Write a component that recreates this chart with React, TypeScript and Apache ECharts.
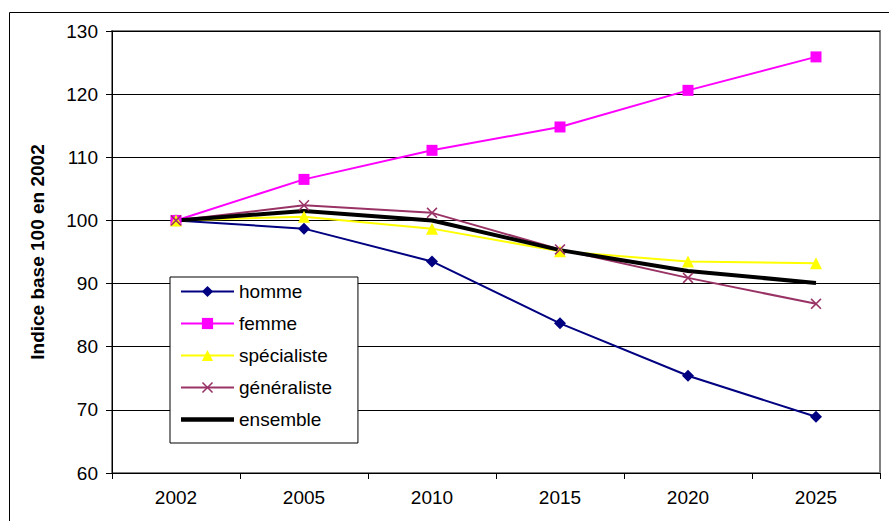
import React, { useEffect, useRef } from "react";
import * as echarts from "echarts";

const categories = ["2002", "2005", "2010", "2015", "2020", "2025"];
const homme = [100, 98.7, 93.5, 83.7, 75.4, 68.9];
const femme = [100, 106.5, 111.1, 114.8, 120.6, 125.9];
const specialiste = [100, 100.6, 98.7, 95.1, 93.5, 93.2];
const generaliste = [100, 102.4, 101.2, 95.4, 90.9, 86.8];
const ensemble = [100, 101.5, 100, 95.3, 92.0, 90.1];
const yTicks = { min: 60, max: 130, interval: 10 };

const FONT = "Liberation Sans, Arial, sans-serif";
const FS = 19;
const X_SYMBOL = "path://M0,1L1,0L5,4L9,0L10,1L6,5L10,9L9,10L5,6L1,10L0,9L4,5Z";

export default function App() {
  const ref = useRef<HTMLDivElement>(null);
  useEffect(() => {
    if (!ref.current) return;
    const chart = echarts.init(ref.current, undefined, { renderer: "svg" });
    const mk = (name: string, data: number[], color: string, symbol: string, size: number, width = 2) => ({
      name,
      type: "line",
      data,
      symbol,
      symbolSize: size,
      showSymbol: symbol !== "none",
      lineStyle: { color, width },
      itemStyle: { color, borderWidth: 0 },
      emphasis: { disabled: true },
    });
    chart.setOption({
      animation: false,
      backgroundColor: "#fff",
      textStyle: { fontFamily: FONT },
      graphic: [
        {
          type: "rect",
          shape: { x: 9.5, y: 12.5, width: 900, height: 600 },
          style: { fill: "none", stroke: "#000", lineWidth: 1 },
          z: -1,
        },
      ],
      grid: {
        left: 112,
        right: 9,
        top: 31,
        bottom: 48,
        show: true,
        borderColor: "#808080",
        borderWidth: 2,
      },
      legend: {
        orient: "vertical",
        left: 170,
        top: 277,
        itemWidth: 53,
        itemHeight: 14,
        itemGap: 13,
        padding: [5, 26, 14, 10],
        borderColor: "#000",
        borderWidth: 1,
        backgroundColor: "#fff",
        textStyle: { fontFamily: FONT, fontSize: FS, color: "#000" },
        data: [
          "homme",
          "femme",
          "spécialiste",
          "généraliste",
          { name: "ensemble", icon: "path://M0,0L53,0L53,4.5L0,4.5Z" },
        ],
      },
      xAxis: {
        type: "category",
        data: categories,
        boundaryGap: true,
        axisLine: { lineStyle: { color: "#000", width: 1 } },
        axisTick: { show: true, length: 6, lineStyle: { color: "#000" } },
        axisLabel: { fontFamily: FONT, fontSize: FS, color: "#000", margin: 15 },
      },
      yAxis: {
        type: "value",
        min: yTicks.min,
        max: yTicks.max,
        interval: yTicks.interval,
        name: "Indice base 100 en 2002",
        nameLocation: "middle",
        nameRotate: 90,
        nameGap: 65,
        nameTextStyle: { fontFamily: FONT, fontSize: FS, fontWeight: "bold", color: "#000" },
        axisLine: { show: true, lineStyle: { color: "#000", width: 1 } },
        axisTick: { show: true, length: 6, lineStyle: { color: "#000" } },
        axisLabel: { fontFamily: FONT, fontSize: FS, color: "#000", margin: 14 },
        splitLine: { show: true, lineStyle: { color: "#000", width: 1 } },
      },
      series: [
        mk("homme", homme, "#000080", "diamond", 12),
        mk("femme", femme, "#FF00FF", "rect", 11),
        mk("spécialiste", specialiste, "#FFFF00", "triangle", 12),
        mk("généraliste", generaliste, "#993366", X_SYMBOL, 11),
        mk("ensemble", ensemble, "#000000", "none", 0, 4),
      ],
    });
    return () => chart.dispose();
  }, []);
  return (
    <div
      ref={ref}
      style={{ position: "fixed", left: 0, top: 0, width: 889, height: 521 }}
    />
  );
}
